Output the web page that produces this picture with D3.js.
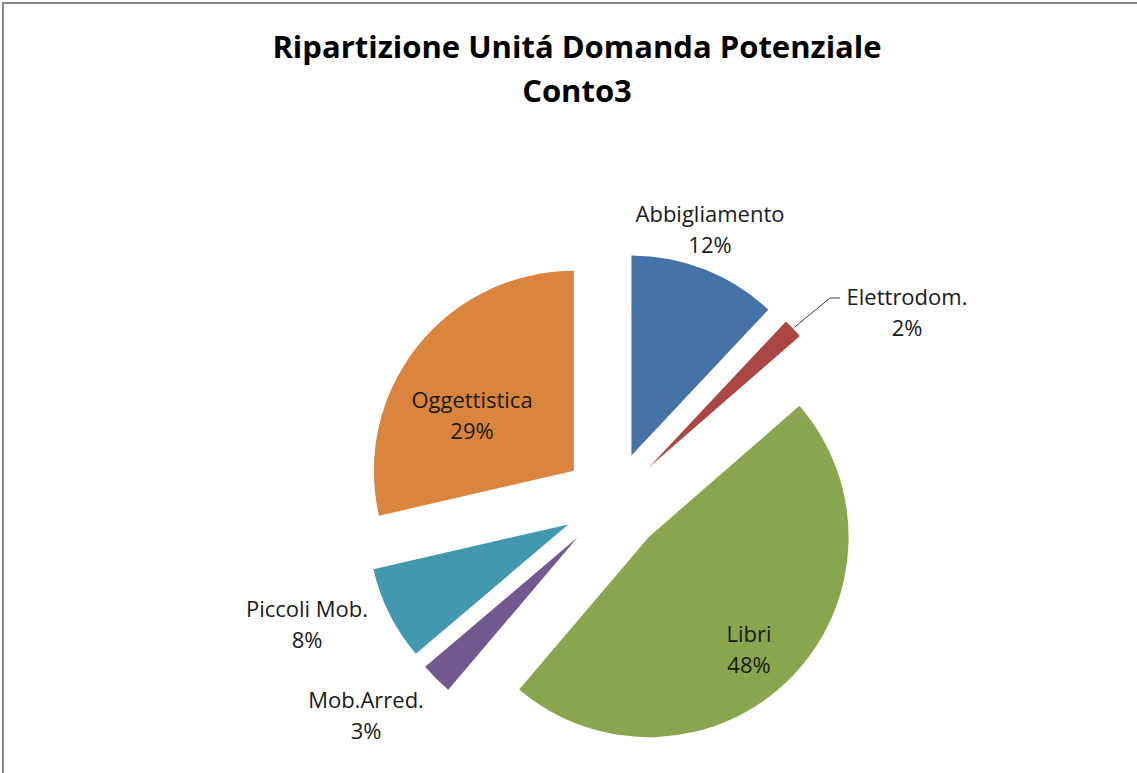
<!DOCTYPE html>
<html>
<head>
<meta charset="utf-8">
<script src="https://cdn.jsdelivr.net/npm/d3@7"></script>
<style>
  body { margin: 0; background: #fff; }
  text { font-family: "Open Sans", "Noto Sans", sans-serif; }
</style>
</head>
<body>
<div id="chart"></div>
<script>
// slice data, clockwise from 12 o'clock
var categories = ["Abbigliamento", "Elettrodom.", "Libri", "Mob.Arred.", "Piccoli Mob.", "Oggettistica"];
var values = [12.0, 1.6, 47.6, 2.6, 7.6, 28.6];
var colors = ["#4572a7", "#aa4643", "#89a54e", "#71588f", "#4198af", "#db843d"];
var titleLines = ["Ripartizione Unitá Domanda Potenziale", "Conto3"];

var width = 1137, height = 773,
    cx = 613, cy = 502,
    radius = 200,
    explode = 50;

var svg = d3.select('#chart').append('svg')
    .attr('width', width)
    .attr('height', height);

// chart area frame (only top and left edges fall inside the window)
svg.append('rect')
    .attr('x', 3).attr('y', 3)
    .attr('width', width + 20).attr('height', height + 20)
    .attr('fill', 'none')
    .attr('stroke', '#868686')
    .attr('stroke-width', 2);

svg.append('g').selectAll('text')
    .data(titleLines)
    .enter().append('text')
    .attr('x', 577)
    .attr('y', function(d, i) { return 58 + i * 44; })
    .attr('text-anchor', 'middle')
    .style('font-size', '31px')
    .style('font-weight', 'bold')
    .style('fill', '#000')
    .text(function(d) { return d; });

var total = d3.sum(values);

var pie = d3.pie().sort(null).value(function(d) { return d; });
var arcs = pie(values);

var arc = d3.arc().innerRadius(0).outerRadius(radius);

function offset(d, dist) {
    var a = (d.startAngle + d.endAngle) / 2;
    return [Math.sin(a) * dist, -Math.cos(a) * dist];
}

var g = svg.append('g').attr('transform', 'translate(' + cx + ',' + cy + ')');

g.selectAll('path')
    .data(arcs)
    .enter().append('path')
    .attr('d', arc)
    .attr('fill', function(d, i) { return colors[i]; })
    .attr('transform', function(d) {
        var o = offset(d, explode);
        return 'translate(' + o[0] + ',' + o[1] + ')';
    });

// label positions (first baseline), relative to the pie centre
var labelPos = [
    [97, -280],
    [294, -197],
    [136, 140],
    [-247, 206],
    [-306, 115],
    [-141, -94]
];

var labels = g.selectAll('g.lbl')
    .data(arcs)
    .enter().append('g')
    .attr('class', 'lbl')
    .attr('transform', function(d, i) {
        return 'translate(' + labelPos[i][0] + ',' + labelPos[i][1] + ')';
    });

labels.append('text')
    .attr('text-anchor', 'middle')
    .style('font-size', '22px')
    .style('fill', '#1a1a1a')
    .text(function(d, i) { return categories[i]; });

labels.append('text')
    .attr('text-anchor', 'middle')
    .attr('y', 31)
    .style('font-size', '22px')
    .style('fill', '#1a1a1a')
    .text(function(d) { return Math.round(d.value / total * 100) + '%'; });

// leader line for the thin Elettrodom. slice
var el = arcs[1];
var ea = (el.startAngle + el.endAngle) / 2;
var eo = offset(el, explode);
var p0 = [eo[0] + Math.sin(ea) * (radius + 2), eo[1] - Math.cos(ea) * (radius + 2)];
g.append('polyline')
    .attr('points', [p0, [217, -204], [227, -204]].map(function(p) { return p.join(','); }).join(' '))
    .attr('fill', 'none')
    .attr('stroke', '#404040')
    .attr('stroke-width', 1);
</script>
</body>
</html>
